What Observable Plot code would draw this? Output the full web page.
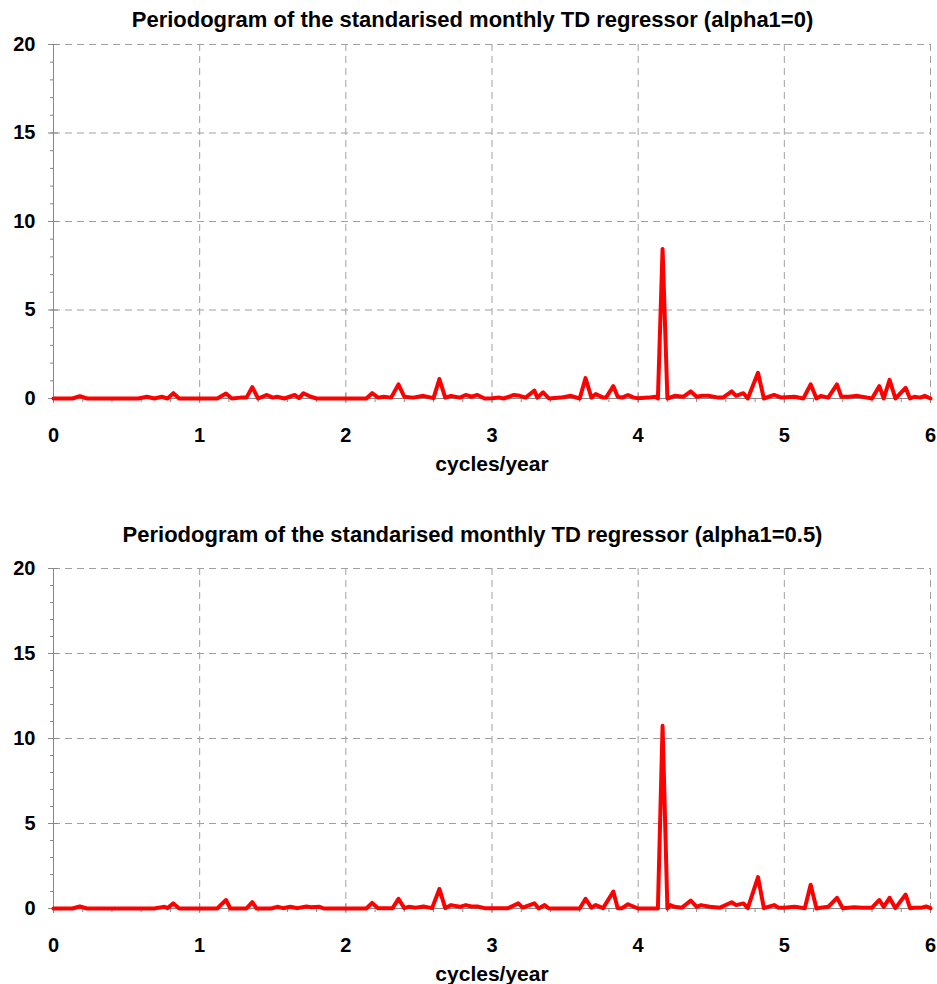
<!DOCTYPE html>
<html><head><meta charset="utf-8">
<script src="https://cdn.jsdelivr.net/npm/d3@7"></script>
<script src="https://cdn.jsdelivr.net/npm/@observablehq/plot@0.6"></script>
<style>
body{margin:0;background:#fff;font-family:"Liberation Sans",Arial,sans-serif;}
#wrap{width:937px;height:984px;position:relative;overflow:hidden;background:#fff}
.title{position:absolute;left:0;width:945px;text-align:center;font-weight:bold;font-size:22px;line-height:24px;color:#000;white-space:nowrap}
.panel{position:absolute;left:0}
</style></head><body>
<div id="wrap"></div>
<script>
// ---- data ----
const title1 = "Periodogram of the standarised monthly TD regressor (alpha1=0)";
const title2 = "Periodogram of the standarised monthly TD regressor (alpha1=0.5)";
const xLabel = "cycles/year";
const xTicks = [0, 1, 2, 3, 4, 5, 6];
const yTicks = [0, 5, 10, 15, 20];

const freq1 = [0,0.13,0.18,0.23,0.58,0.64,0.69,0.74,0.78,0.82,0.86,1.12,1.18,1.22,1.28,1.32,1.36,1.40,1.46,1.50,1.53,1.58,1.65,1.68,1.71,1.76,1.80,
  2.14,2.18,2.22,2.26,2.31,2.36,2.40,2.46,2.53,2.60,2.64,2.68,2.72,2.78,2.82,2.86,2.90,2.95,3.00,3.05,3.08,3.15,3.19,3.23,3.29,3.31,3.35,3.39,
  3.47,3.54,3.60,3.64,3.68,3.71,3.76,3.78,3.83,3.86,3.89,3.93,3.97,4.00,4.07,4.12,4.135,4.167,4.20,4.25,4.31,4.36,4.40,4.44,4.48,4.55,4.58,
  4.64,4.67,4.72,4.75,4.82,4.86,4.93,4.98,5.07,5.13,5.18,5.22,5.25,5.30,5.36,5.39,5.44,5.50,5.60,5.65,5.68,5.72,5.76,5.83,5.86,5.89,5.93,5.96,6.00];
const pgram1 = [0,0,0.13,0,0,0.1,0,0.1,0,0.3,0,0,0.28,0,0.05,0.05,0.64,0,0.2,0.05,0.1,0,0.2,0.02,0.3,0.1,0,
  0,0.3,0.05,0.1,0.05,0.8,0.1,0.05,0.15,0.02,1.1,0.05,0.15,0.05,0.2,0.1,0.2,0,0.02,0.05,0,0.2,0.15,0.05,0.45,0.05,0.35,0,
  0.05,0.15,0,1.15,0.05,0.25,0.05,0.05,0.7,0.1,0.05,0.2,0.05,0.02,0.05,0.1,0,8.45,0,0.15,0.1,0.4,0.1,0.15,0.15,0.05,0.05,
  0.4,0.15,0.3,0,1.45,0,0.2,0.05,0.1,0,0.8,0,0.15,0.05,0.8,0.1,0.1,0.15,0,0.7,0,1.05,0,0.6,0,0.1,0.05,0.15,0];

const freq2 = [0,0.13,0.18,0.23,0.69,0.72,0.76,0.78,0.82,0.86,1.12,1.18,1.21,1.32,1.36,1.39,1.49,1.53,1.57,1.62,1.67,1.73,1.76,1.82,1.85,
  2.14,2.18,2.22,2.32,2.36,2.40,2.43,2.48,2.53,2.59,2.64,2.68,2.72,2.78,2.82,2.86,2.90,2.95,3.11,3.18,3.21,3.29,3.32,3.36,3.39,
  3.60,3.64,3.68,3.71,3.76,3.83,3.86,3.89,3.93,4.00,4.135,4.167,4.20,4.22,4.25,4.30,4.36,4.40,4.43,4.49,4.56,4.64,4.67,4.72,4.75,
  4.82,4.86,4.93,4.96,5.00,5.07,5.14,5.18,5.22,5.25,5.30,5.36,5.40,5.44,5.48,5.53,5.60,5.65,5.68,5.72,5.76,5.83,5.86,5.89,5.94,5.97,6.00];
const pgram2 = [0,0,0.12,0,0,0.05,0.1,0.02,0.3,0,0,0.5,0,0,0.37,0,0,0.1,0.02,0.1,0.02,0.12,0.08,0.1,0,
  0,0.33,0.02,0.02,0.57,0.02,0.1,0.05,0.12,0.02,1.15,0.02,0.2,0.1,0.2,0.12,0.12,0.02,0.02,0.3,0.05,0.3,0,0.2,0,
  0,0.57,0.05,0.2,0.02,1.0,0.02,0.02,0.25,0,0,10.75,0,0.2,0.1,0.05,0.47,0.1,0.2,0.1,0.05,0.37,0.2,0.3,0.02,
  1.85,0.02,0.2,0.05,0.05,0.1,0.02,1.4,0,0.05,0.1,0.63,0.02,0.05,0.08,0.05,0.05,0.5,0.1,0.63,0.02,0.82,0.02,0.05,0.05,0.12,0.02];

// ---- drawing ----
const xMinor = d3.range(0, 31).map(i => i / 5);
const yMinor = d3.range(0, 21);
const xGrid = xTicks.slice(1);
const yGrid = yTicks.slice(1);
const axisColor = "#888";
const gridStyle = {stroke: "#a0a0a0", strokeDasharray: "7,5", strokeWidth: 1};

function panel(freq, vals, height, marginBottom, labelDy) {
  const data = freq.map((f, i) => ({f, v: vals[i]}));
  return Plot.plot({
    width: 937, height,
    marginLeft: 53, marginRight: 7, marginTop: 4, marginBottom,
    x: {domain: [0, 6]},
    y: {domain: [0, 20]},
    style: {fontFamily: "'Liberation Sans', Arial, sans-serif", fontWeight: "bold", fontSize: "20px", color: "#000", background: "transparent", overflow: "visible"},
    marks: [
      Plot.ruleX(xGrid, gridStyle),
      Plot.ruleY(yGrid, gridStyle),
      Plot.ruleX([0], {stroke: axisColor}),
      Plot.ruleY([0], {stroke: axisColor}),
      Plot.axisX(xMinor, {tickSize: 4, tickFormat: () => "", stroke: axisColor, label: null}),
      Plot.axisX(xTicks, {tickSize: 5, tickPadding: 24, stroke: axisColor, label: null, tickFormat: d => String(d), fill: "#000"}),
      Plot.axisX(xTicks, {tickSize: 5, dy: -5, tickFormat: () => "", stroke: axisColor, label: null}),
      Plot.axisY(yMinor, {tickSize: 3, tickFormat: () => "", stroke: axisColor, label: null}),
      Plot.axisY(yTicks, {tickSize: 5, tickPadding: 13, stroke: axisColor, label: null, tickFormat: d => String(d), fill: "#000"}),
      Plot.axisY(yTicks, {tickSize: 5, dx: 5, tickFormat: () => "", stroke: axisColor, label: null}),
      Plot.text([xLabel], {frameAnchor: "bottom", dy: labelDy, text: d => d, fontSize: 21, fontWeight: "bold", fill: "#000"}),
      Plot.line(data, {x: "f", y: "v", stroke: "#ff0000", strokeWidth: 4, strokeLinejoin: "round", curve: "linear"})
    ]
  });
}

const wrap = document.getElementById("wrap");
function addTitle(text, top) {
  const d = document.createElement("div");
  d.className = "title"; d.style.top = top + "px"; d.textContent = text;
  wrap.appendChild(d);
}
function addPanel(svg, top) {
  svg.classList.add("panel");
  svg.style.top = top + "px";
  wrap.appendChild(svg);
}
addTitle(title1, 8);
addPanel(panel(freq1, pgram1, 440, 82, 72), 40);
addTitle(title2, 523);
addPanel(panel(freq2, pgram2, 420, 76, 72), 564);
</script>
</body></html>
